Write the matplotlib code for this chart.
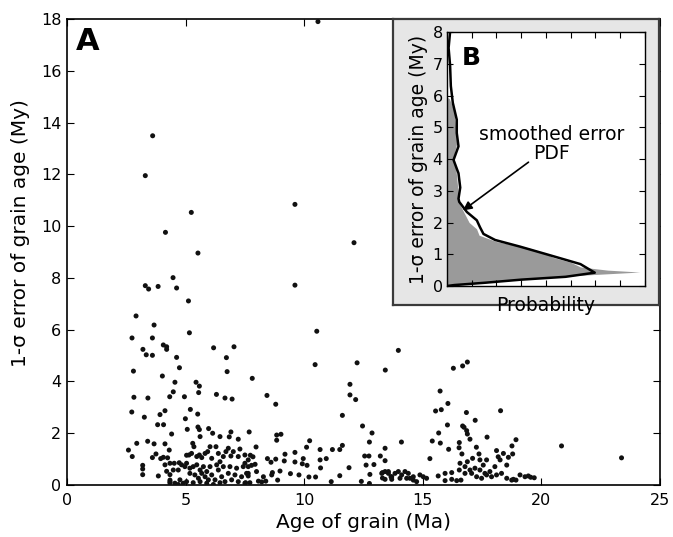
import numpy as np
import matplotlib
matplotlib.use('Agg')
import matplotlib.pyplot as plt

### Data

# Panel A: grain age (Ma) vs 1-sigma error (My)
age_ma = [
    # sparse upper points
    3.61, 3.30, 9.61, 5.24, 4.15, 12.10, 5.52, 4.47, 3.30, 3.44, 3.84, 4.62, 9.61, 5.12,
    2.91, 3.67, 2.74, 3.60, 5.16, 10.53, 3.20, 3.34, 3.60, 4.06, 4.20, 4.20, 4.62, 6.18,
    6.72, 7.04, 4.74, 2.80, 4.02, 6.75, 7.81, 10.46, 12.23, 13.42, 13.97, 11.93, 4.55, 5.44,
    5.58, 4.48, 5.55, 6.30, 8.43, 11.93, 2.82, 3.41, 4.33, 4.95, 6.66, 6.96, 12.17, 10.58,
    8.80,
    # 2.5 - 8 Ma, 0 - 3 My
    2.73, 3.26, 3.92, 4.13, 3.82, 4.07, 4.41, 4.99, 5.20, 5.51, 5.07, 5.52, 5.58, 5.61,
    5.97, 6.14, 6.45, 6.84, 6.91, 7.22, 7.68, 2.59, 2.75, 2.94, 3.40, 3.67, 4.13, 4.31,
    3.75, 3.60, 3.95, 4.06, 4.24, 4.13, 4.34, 4.52, 4.73, 3.19, 3.19, 3.19, 3.85, 4.20,
    4.34, 4.48, 4.69, 4.83, 4.97, 5.04, 5.14, 5.25, 5.30, 5.35, 5.47, 5.58, 5.68, 5.82,
    5.93, 6.03, 6.10, 6.28, 6.38, 6.45, 6.59, 6.70, 6.80, 6.91, 7.01, 7.22, 7.29, 7.50,
    7.64,
    5.04, 5.18, 5.32, 5.47, 5.61, 5.75, 5.89, 5.18, 5.39, 5.54, 5.68, 5.82, 5.96, 6.10,
    6.24, 6.38, 6.52, 6.66, 6.80, 6.94, 7.08, 7.22, 7.36, 7.50, 7.64, 4.34, 4.55, 4.76,
    4.90, 5.04, 4.69, 6.03, 6.31, 6.59, 6.87, 7.15, 7.43, 6.17, 6.45, 5.61, 5.89, 5.32,
    4.34, 4.34,
    # 7.5 - 13.7 Ma
    8.84, 9.02, 8.84, 7.97, 10.23, 10.10, 11.61, 11.61, 11.50, 11.19, 10.67, 12.46, 12.86,
    12.75, 13.41, 7.73, 7.84, 7.93, 7.50, 7.64, 7.78, 7.57, 7.64, 7.99, 8.28, 8.38, 8.21,
    8.07, 7.71, 7.53, 8.45, 8.60, 8.80, 9.19, 9.16, 9.61, 9.61, 9.96, 9.92, 10.12, 10.67,
    10.93, 10.69, 8.98, 8.66, 8.63, 8.88, 9.42, 9.78, 10.20, 10.48, 11.14, 11.50, 11.89,
    12.41, 12.55, 12.73, 12.61, 12.94, 12.77, 12.75, 13.21, 13.41, 13.30, 13.30, 13.55,
    13.66, 13.69, 13.41,
    # 13 - 24 Ma
    16.29, 16.68, 16.88, 15.73, 16.06, 15.54, 15.78, 16.84, 17.21, 18.28, 16.04, 16.68,
    16.74, 16.85, 16.88, 15.67, 17.71, 18.93, 15.40, 15.74, 16.54, 16.99, 16.53, 16.09,
    17.26, 18.11, 18.76, 14.10, 15.30, 16.65, 17.37, 17.10, 18.40, 18.18, 18.61, 18.79,
    18.26, 18.54, 18.04,
    16.57, 16.78, 16.88, 16.99, 17.20, 17.41, 17.55, 17.69, 17.41, 17.62, 17.83, 17.06,
    17.27, 17.48, 17.69, 17.90, 18.11, 18.32, 18.54, 18.75, 18.82, 16.78, 16.54,
    13.27, 13.41, 13.55, 13.69, 13.83, 13.97, 14.11, 14.25, 14.39, 14.46, 14.60, 14.74,
    14.88, 15.02, 15.16, 14.04, 14.32, 14.60, 15.65, 15.94, 16.22, 15.94, 16.22, 16.43,
    16.61, 19.10, 19.31, 19.45, 18.93, 19.55, 19.70, 20.85, 23.38,
]
err_my = [
    13.49, 11.95, 10.84, 10.53, 9.76, 9.36, 8.96, 8.01, 7.70, 7.57, 7.67, 7.61, 7.72, 7.11,
    6.53, 6.18, 5.68, 5.68, 5.88, 5.94, 5.24, 5.03, 5.01, 5.41, 5.34, 5.24, 4.93, 5.30,
    4.92, 5.34, 4.53, 4.40, 4.21, 4.38, 4.12, 4.65, 4.72, 4.44, 5.20, 3.89, 3.97, 3.97,
    3.82, 3.60, 3.57, 3.50, 3.46, 3.48, 3.39, 3.36, 3.41, 3.41, 3.36, 3.32, 3.30, 17.90,
    3.12,
    2.82, 2.62, 2.72, 2.87, 2.33, 2.33, 1.97, 2.56, 2.92, 2.74, 2.15, 2.24, 2.14, 1.87,
    2.18, 2.00, 1.87, 1.86, 2.05, 1.77, 2.05, 1.35, 1.10, 1.61, 1.69, 1.59, 1.59, 1.35,
    1.20, 1.06, 1.02, 1.07, 1.05, 0.78, 0.84, 0.84, 0.86, 0.76, 0.62, 0.40, 0.35, 0.53,
    0.40, 0.58, 0.58, 0.78, 0.71, 1.15, 1.16, 1.22, 1.61, 1.48, 1.10, 1.16, 1.06, 1.22,
    1.29, 1.48, 1.03, 1.48, 1.22, 0.90, 1.10, 1.29, 1.42, 1.12, 1.29, 1.10, 1.39, 1.16,
    0.97,
    0.84, 0.65, 0.71, 0.78, 0.58, 0.71, 0.52, 0.45, 0.39, 0.26, 0.45, 0.32, 0.20, 0.39,
    0.20, 0.58, 0.32, 0.13, 0.45, 0.20, 0.39, 0.13, 0.32, 0.07, 0.45, 0.13, 0.07, 0.20,
    0.07, 0.13, 0.02, 0.71, 0.78, 0.71, 0.71, 0.65, 0.71, 0.02, 0.09, 0.13, 0.07, 0.09,
    0.19, 0.08,
    1.93, 1.96, 1.73, 1.47, 1.71, 1.46, 2.69, 1.53, 1.37, 1.37, 1.37, 2.28, 2.01,
    1.66, 1.42, 1.15, 1.09, 0.80, 0.84, 0.71, 0.76, 0.45, 0.35, 0.52, 0.32, 0.15, 0.12,
    0.15, 0.09, 0.09, 1.02, 0.88, 1.00, 1.19, 0.93, 1.26, 0.89, 1.02, 0.82, 0.76, 0.97,
    1.02, 0.66, 0.54, 0.48, 0.39, 0.19, 0.44, 0.39, 0.31, 0.31, 0.13, 0.36, 0.67,
    0.14, 1.12, 1.12, 0.77, 0.79, 0.41, 0.06, 1.12, 0.94, 0.48, 0.27, 0.52,
    0.32, 0.22, 0.22,
    4.51, 4.60, 4.75, 3.63, 3.15, 2.86, 2.91, 2.80, 2.50, 2.87, 2.32, 2.28,
    2.23, 2.10, 1.97, 2.01, 1.85, 1.75, 1.70, 1.62, 1.64, 1.77, 1.44, 1.38,
    1.46, 1.33, 1.51, 1.66, 1.02, 1.20, 1.20, 1.03, 1.22, 1.09, 1.07, 1.20,
    0.97, 0.77, 0.71,
    0.84, 0.71, 0.90, 0.58, 0.65, 0.97, 0.77, 0.97, 0.58, 0.45, 0.52, 0.45,
    0.32, 0.26, 0.39, 0.32, 0.39, 0.45, 0.26, 0.19, 0.22, 0.45, 0.58,
    0.45, 0.52, 0.45, 0.32, 0.45, 0.52, 0.39, 0.52, 0.45, 0.26, 0.32, 0.13,
    0.39, 0.32, 0.26, 0.26, 0.26, 0.19, 0.35, 0.45, 0.48, 0.17, 0.22, 0.17,
    0.19, 0.39, 0.32, 0.35, 0.19, 0.30, 0.28, 1.51, 1.05,
]

# Panel B: smoothed error PDF (probability in tick units, error in My)
pdf_prob = [0.0, 0.3, 1.5, 3.0, 4.8, 5.98, 5.4, 4.03, 2.96, 1.95, 1.48, 1.34, 1.21, 0.81,
            0.50, 0.47, 0.54, 0.47, 0.27, 0.47, 0.40, 0.40, 0.24, 0.16, 0.13, 0.07, 0.13]
pdf_err = [0.0, 0.03, 0.10, 0.20, 0.29, 0.42, 0.69, 1.00, 1.24, 1.45, 1.64, 1.85, 2.07, 2.33,
           2.65, 2.75, 3.10, 3.55, 3.97, 4.40, 4.82, 5.24, 5.77, 6.30, 6.95, 7.50, 8.00]

# histogram-like gray area behind the PDF
hist_prob = [0.0, 1.5, 4.5, 7.8, 6.5, 5.4, 5.0, 4.3, 3.9, 3.3, 2.0, 1.3, 1.2, 0.9, 0.7,
             0.5, 0.45, 0.4, 0.35, 0.25, 0.4, 0.35, 0.3, 0.1, 0.0]
hist_err = [0.0, 0.1, 0.3, 0.44, 0.5, 0.6, 0.75, 0.9, 1.05, 1.2, 1.4, 1.6, 1.8, 2.0, 2.3,
            2.6, 3.0, 3.4, 3.8, 4.0, 4.5, 5.0, 5.5, 5.9, 5.95]

### Figure

fig = plt.figure(figsize=(6.73, 5.37), dpi=100)

ax = fig.add_axes([0.0996, 0.0968, 0.881, 0.8678])
ax.scatter(age_ma, err_my, s=13, color='#111111', edgecolors='none', zorder=3)
ax.set_xlim(0, 25)
ax.set_ylim(0, 18)
ax.set_xticks(np.arange(0, 26, 5))
ax.set_yticks(np.arange(0, 19, 2))
ax.tick_params(direction='in', top=True, right=True, length=5, width=0.8,
               labelsize=11.5, pad=4)
ax.tick_params(axis='x', pad=6)
for s in ax.spines.values():
    s.set_linewidth(1.2)
ax.set_xlabel('Age of grain (Ma)', fontsize=14.5, labelpad=3)
ax.set_ylabel('1-σ error of grain age (My)', fontsize=14.5)
ax.yaxis.set_label_coords(-0.062, 0.54)
ax.text(0.015, 0.983, 'A', transform=ax.transAxes, fontsize=22, fontweight='bold',
        va='top', ha='left')

# gray frame behind inset
box = fig.add_axes([0.584, 0.432, 0.395, 0.5326])
box.set_facecolor('#e6e6e6')
box.set_xticks([])
box.set_yticks([])
for s in box.spines.values():
    s.set_color('#3a3a3a')
    s.set_linewidth(1.6)

ins = fig.add_axes([0.664, 0.4674, 0.294, 0.473])
ins.fill_betweenx(hist_err, 0, hist_prob, color='#9a9a9a', lw=0)
ins.plot(pdf_prob, pdf_err, color='black', lw=1.8, solid_joinstyle='round')
ins.set_xlim(0, 8)
ins.set_ylim(0, 8)
ins.set_xticks(np.arange(0, 9, 1))
ins.set_xticklabels([])
ins.set_yticks(np.arange(0, 9, 1))
ins.tick_params(direction='in', top=True, right=True, length=4, width=0.8,
                labelsize=11.5, pad=3)
for s in ins.spines.values():
    s.set_linewidth(1.0)
ins.set_xlabel('Probability', fontsize=13.5, labelpad=4)
ins.set_ylabel('1-σ error of grain age (My)', fontsize=13.5, labelpad=3)
ins.text(0.076, 0.945, 'B', transform=ins.transAxes, fontsize=18, fontweight='bold',
         va='top', ha='left')
ins.text(4.24, 4.47, 'smoothed error\nPDF', fontsize=13.5, ha='center', va='center',
         linespacing=1.0)
ins.annotate('', xy=(0.65, 2.38), xytext=(3.3, 3.9),
             arrowprops=dict(arrowstyle='-|>', color='black', lw=1.2,
                             mutation_scale=13, shrinkA=0, shrinkB=0))

fig.savefig('out.png', dpi=100)
